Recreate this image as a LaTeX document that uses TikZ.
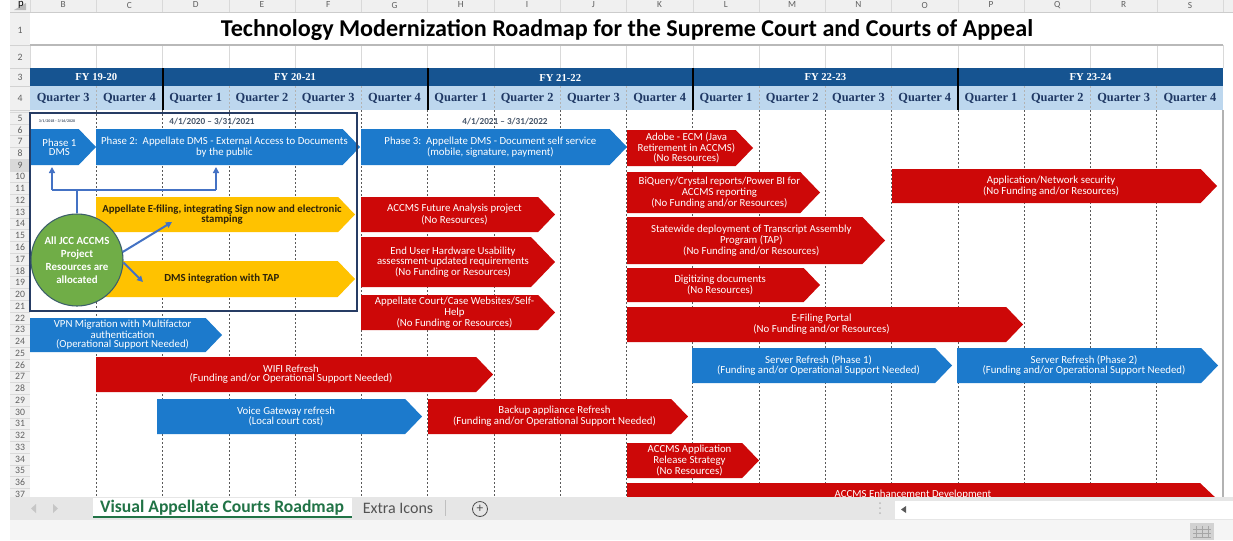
\documentclass[tikz,border=0pt]{standalone}
\usepackage{fontspec}
\setmainfont{Carlito}
\newfontfamily\fyfont{Liberation Serif}
\usetikzlibrary{arrows.meta}

\definecolor{fyblue}{RGB}{22,84,145}
\definecolor{qblue}{RGB}{189,215,238}
\definecolor{qtext}{RGB}{31,56,100}
\definecolor{barblue}{RGB}{28,122,204}
\definecolor{barred}{RGB}{205,8,8}
\definecolor{baryellow}{RGB}{255,194,0}
\definecolor{yelltext}{RGB}{45,35,10}
\definecolor{poolgreen}{RGB}{112,173,71}
\definecolor{poolrim}{RGB}{60,95,105}
\definecolor{linkblue}{RGB}{68,114,196}
\definecolor{boxnavy}{RGB}{38,60,100}
\definecolor{tabgreen}{RGB}{33,115,70}
\definecolor{sheetgray}{RGB}{230,230,230}
\definecolor{dategray}{RGB}{70,85,105}

\tikzset{
  bartext/.style={align=center, inner sep=0pt, font=\fontsize{8.1}{6.9}\selectfont},
  bluebar/.style={fill=barblue, text=white},
  redbar/.style={fill=barred, text=white},
  yellowbar/.style={fill=baryellow, text=yelltext, font=\fontsize{8.1}{7.2}\selectfont\bfseries},
  qline/.style={gray!70!black, line width=0.5pt, dash pattern=on 1.5pt off 1.5pt},
  fyline/.style={black, line width=1.5pt},
  fylabel/.style={text=white, font=\fyfont\bfseries\fontsize{8}{8}\selectfont},
  qlabel/.style={text=qtext, font=\fyfont\bfseries\fontsize{9.3}{9.3}\selectfont},
  rownum/.style={text=gray!75!black, font=\fontsize{7.3}{7.3}\selectfont},
  colletter/.style={text=gray!75!black, font=\fontsize{7}{7}\selectfont},
  datelabel/.style={text=dategray, font=\fontsize{6.9}{6.9}\selectfont\bfseries},
  link/.style={linkblue, line width=1.5pt},
  pool/.style={circle, fill=poolgreen, draw=poolrim, line width=0.8pt, minimum size=69pt,
    inner sep=0pt, align=center, text=white, font=\fontsize{8.2}{9.8}\selectfont\bfseries}
}

% name, style, x left, x tip, y top, y bottom, text
\newcommand{\roadbar}[7]{%
  \fill[#2] (#3,#5) -- ({#4-0.48*(#6-#5)},#5) -- (#4,{(#5+#6)/2})
    -- ({#4-0.48*(#6-#5)},#6) -- (#3,#6) -- cycle;
  \node[bartext,#2] (#1) at ({(#3+#4)/2-0.1*(#6-#5)},{(#5+#6)/2}) {#7};}

\def\colw{66.28}

\begin{document}
\begin{tikzpicture}[x=0.75pt,y=-0.75pt]
\useasboundingbox (0,0) rectangle (1233,540);
\fill[white] (0,0) rectangle (1233,540);

% sheet frame
\fill[gray!12] (10,0) rectangle (1233,12);
\fill[gray!12] (10,12) rectangle (30,497);
\fill[gray!30] (10,{112.1+4*11.76}) rectangle (30,{112.1+5*11.76});
\draw[tabgreen, line width=1pt] (30,{112.1+4*11.76}) -- (30,{112.1+5*11.76});
\fill[gray!55] (14,10) -- (26,10) -- (26,3) -- cycle;
\node[anchor=base, font=\fontsize{8}{8}\selectfont, inner sep=0pt] (cornerp) at (21,6) {p};
\foreach \c [count=\i from 0] in {B,...,S}
  \node[colletter] at ({30+(\i+0.5)*\colw},5) {\c};
\foreach \k in {0,...,18}
  \draw[gray!30] ({30+\k*\colw},0) -- ({30+\k*\colw},12)
                 ({30+\k*\colw},45) -- ({30+\k*\colw},68);
\draw[gray!40] (10,12) -- (1233,12);
\draw[gray!35] (10,45) -- (30,45) (10,68) -- (30,68) (10,86) -- (30,86) (10,110) -- (30,110);
\foreach \r in {5,...,37}
  \draw[gray!30] (10,{112.1+(\r-5)*11.76}) -- (30,{112.1+(\r-5)*11.76});
\node[rownum] at (20,30) {1};
\node[rownum] at (20,57) {2};
\node[rownum] at (20,77) {3};
\node[rownum] at (20,98) {4};
\foreach \r in {5,...,37}
  \node[rownum] at (20,{118+(\r-5)*11.76}) {\r};

% title
\node[font=\fontsize{18.1}{18.1}\selectfont\bfseries] (title) at (627,30)
  {Technology Modernization Roadmap for the Supreme Court and Courts of Appeal};
\draw[gray!55, line width=1.5pt] (30,45) -- (1223,45);

% fiscal years and quarters
\fill[fyblue] (30,68) rectangle (1223,86);
\fill[qblue] (30,86) rectangle (1223,110);
\foreach \lbl/\xc in {FY 19-20/96.3, FY 20-21/295.1, FY 21-22/560.2, FY 22-23/825.4, FY 23-24/1090.5}
  \node[fylabel] at (\xc,77.5) {\lbl};
\foreach \q [count=\i from 0] in {3,4,1,2,3,4,1,2,3,4,1,2,3,4,1,2,3,4}
  \node[qlabel] at ({30+(\i+0.5)*\colw},98.5) {Quarter \q};
\foreach \k in {1,3,4,5,7,8,9,11,12,13,15,16,17}
  \draw[qline, gray!60] ({30+\k*\colw},86) -- ({30+\k*\colw},110);
\foreach \k in {2,6,10,14}
  \draw[fyline] ({30+\k*\colw},68) -- ({30+\k*\colw},110);

% quarter grid
\foreach \k in {1,...,17}
  \draw[qline] ({30+\k*\colw},110) -- ({30+\k*\colw},497);
\draw[gray!60, line width=0.8pt] (1223,110) -- (1223,497);

% project bars
\roadbar{phaseone}{bluebar}{30}{96}{129}{165}{Phase 1\\DMS}
\roadbar{phasetwo}{bluebar}{96}{360}{129}{165}{Phase 2:\ \ Appellate DMS - External Access to Documents\\by the public}
\roadbar{phasethree}{bluebar}{361}{627}{129}{165}{Phase 3:\ \ Appellate DMS - Document self service\\(mobile, signature, payment)}
\roadbar{efiling}{yellowbar}{96}{355}{197}{232}{Appellate E-filing, integrating Sign now and electronic\\stamping}
\roadbar{dmstap}{yellowbar}{96}{355}{261}{297}{DMS integration with TAP}
\roadbar{futurework}{redbar}{361}{555}{197}{232}{ACCMS Future Analysis project\\(No Resources)}
\roadbar{hardware}{redbar}{361}{555}{237}{287}{End User Hardware Usability\\assessment-updated requirements\\(No Funding or Resources)}
\roadbar{websites}{redbar}{361}{555}{295}{330}{Appellate Court/Case Websites/Self-\\Help\\(No Funding or Resources)}
\roadbar{adobe}{redbar}{627}{753}{130}{166}{Adobe - ECM (Java\\Retirement in ACCMS)\\(No Resources)}
\roadbar{biquery}{redbar}{627}{820}{172}{213}{BiQuery/Crystal reports/Power BI for\\ACCMS reporting\\(No Funding and/or Resources)}
\roadbar{tapdeploy}{redbar}{627}{885}{217}{264}{Statewide deployment of Transcript Assembly\\Program (TAP)\\(No Funding and/or Resources)}
\roadbar{digitize}{redbar}{627}{820}{268}{302}{Digitizing documents\\(No Resources)}
\roadbar{efportal}{redbar}{627}{1023}{307}{342}{E-Filing Portal\\(No Funding and/or Resources)}
\roadbar{appsec}{redbar}{892}{1217}{169}{203}{Application/Network security\\(No Funding and/or Resources)}
\roadbar{vpn}{bluebar}{30}{222}{318}{352}{VPN Migration with Multifactor\\authentication\\(Operational Support Needed)}
\roadbar{serverone}{bluebar}{692}{952}{348}{383}{Server Refresh (Phase 1)\\(Funding and/or Operational Support Needed)}
\roadbar{servertwo}{bluebar}{957}{1218}{348}{383}{Server Refresh (Phase 2)\\(Funding and/or Operational Support Needed)}
\roadbar{wifi}{redbar}{96}{493}{357}{392}{WIFI Refresh\\(Funding and/or Operational Support Needed)}
\roadbar{voice}{bluebar}{157}{422}{399}{434}{Voice Gateway refresh\\(Local court cost)}
\roadbar{backup}{redbar}{428}{688}{399}{434}{Backup appliance Refresh\\(Funding and/or Operational Support Needed)}
\roadbar{release}{redbar}{627}{759}{443}{478}{ACCMS Application\\Release Strategy\\(No Resources)}
\fill[barred] (627,483) -- (1200,483) -- (1218,500) -- (1218,520) -- (627,520) -- cycle;
\node[bartext, text=white] (enhance) at (913,495) {ACCMS Enhancement Development};

% resource pool box
\draw[boxnavy, line width=1.5pt] (30,113) rectangle (357,311);
\node[datelabel, font=\fontsize{3}{3}\selectfont\bfseries] (dateone) at (57,121) {3/1/2018 - 3/16/2020};
\node[datelabel] (datetwo) at (212,121) {4/1/2020 – 3/31/2021};
\node[datelabel] (datethree) at (505,121) {4/1/2021 – 3/31/2022};

\node[pool] (pool) at (77,260) {All JCC ACCMS\\Project\\Resources are\\allocated};
\coordinate (forkl) at (52,190);
\coordinate (forkr) at (216,190);
\coordinate (tipone) at (52,167);
\coordinate (tiptwo) at (216,167);
\coordinate (tipfile) at (172,222);
\coordinate (tiptap) at (143,282);
\draw[link] (pool.north) -- (pool.north |- forkl);
\draw[link] (forkl) -- (forkr);
\draw[link, -{Triangle[length=4.5pt,width=4.5pt]}] (forkl) -- (tipone);
\draw[link, -{Triangle[length=4.5pt,width=4.5pt]}] (forkr) -- (tiptwo);
\draw[link, -{Triangle[length=4.5pt,width=4.5pt]}] (pool.10) -- (tipfile);
\draw[link, -{Triangle[length=4.5pt,width=4.5pt]}] (pool.-3) -- (tiptap);

% sheet tabs and status bar
\fill[sheetgray] (10,497) rectangle (1233,520);
\fill[gray!8] (10,520) rectangle (1233,540);
\fill[gray!45] (36,504) -- (36,513) -- (31,508.5) -- cycle;
\fill[gray!45] (53,504) -- (53,513) -- (58,508.5) -- cycle;
\fill[white] (93,498) rectangle (352,518);
\draw[tabgreen, line width=1.5pt] (93,517) -- (352,517);
\node[text=tabgreen, font=\fontsize{13.2}{13.2}\selectfont\bfseries] (tabone) at (222,508) {Visual Appellate Courts Roadmap};
\node[text=gray!65!black, font=\fontsize{12}{12}\selectfont] (tabtwo) at (398,508) {Extra Icons};
\draw[gray!50] (445,500) -- (445,516);
\draw[gray!60!black, line width=0.6pt] (480,509) circle (7.5);
\node[text=gray!60!black, font=\fontsize{10}{10}\selectfont] (addtab) at (480,508.5) {+};
\foreach \yy in {503,508,513}
  \fill[gray!55] (880,\yy) circle (1);
\fill[white] (895,501) rectangle (1233,519);
\fill[gray!70!black] (906,506) -- (906,513) -- (901,509.5) -- cycle;
\fill[gray!35] (1190,523) rectangle (1214,540);
\foreach \gx in {1196,1202,1208}
  \draw[gray!70, line width=0.4pt] (\gx,526) -- (\gx,538);
\foreach \gy in {529,533,537}
  \draw[gray!70, line width=0.4pt] (1193,\gy) -- (1211,\gy);
\end{tikzpicture}
\end{document}
